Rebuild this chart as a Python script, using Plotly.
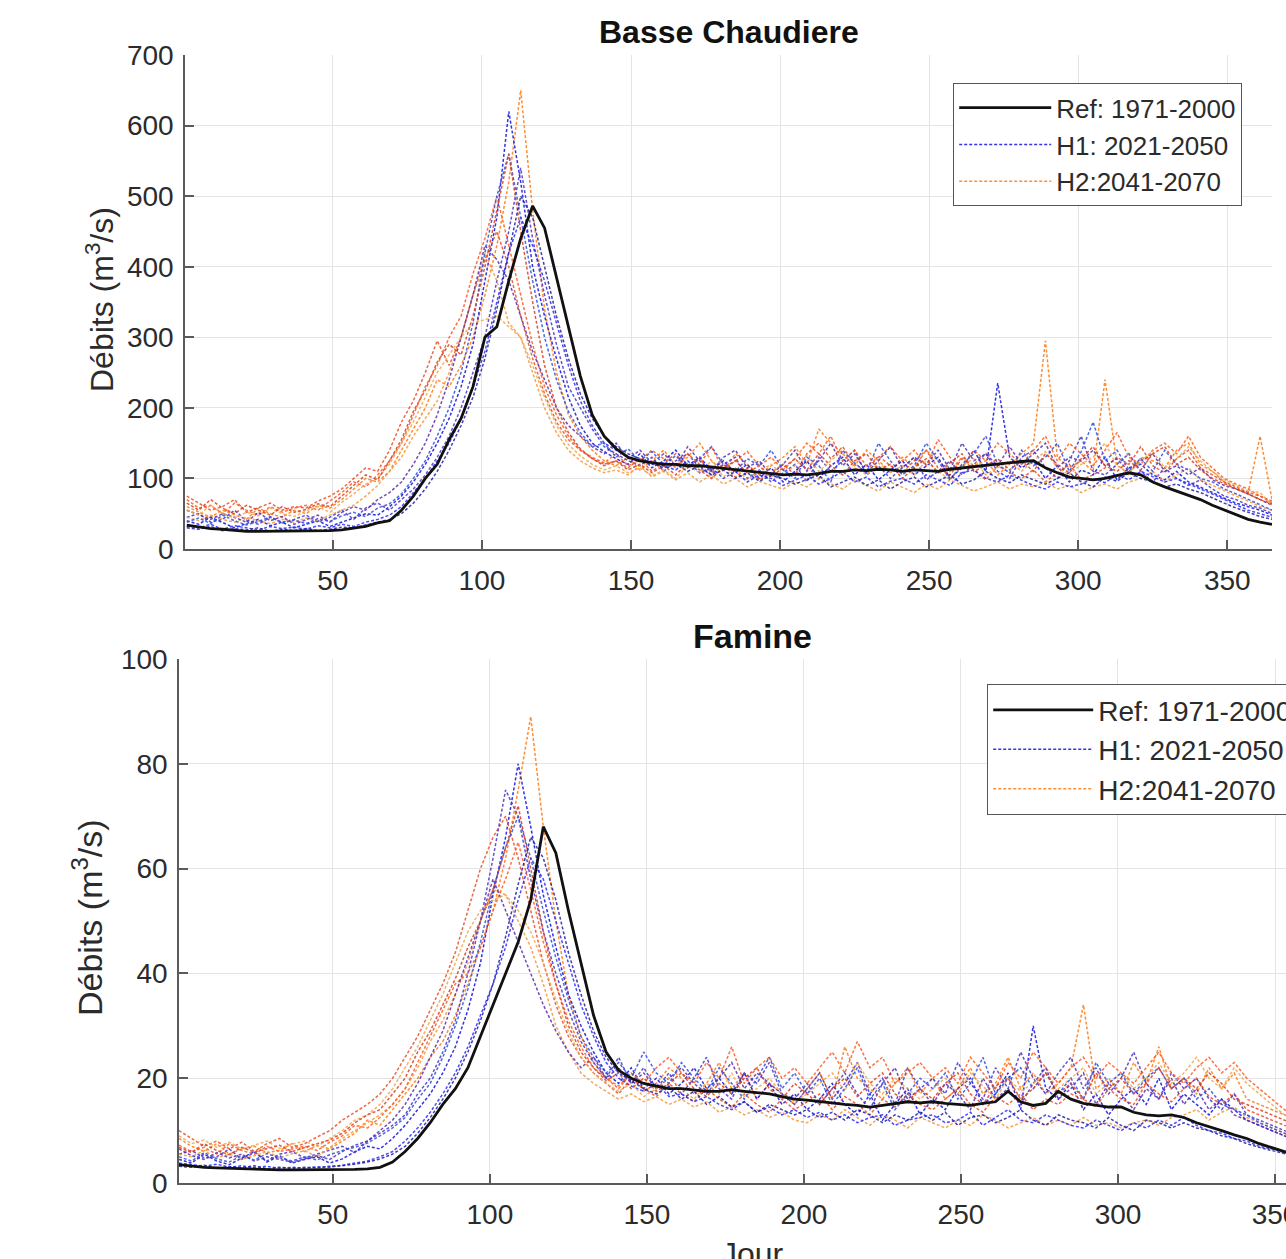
import plotly.graph_objects as go

# ---------------- data ----------------
DAYS = list(range(1, 366, 4))  # 1, 5, 9, ..., 365  (92 sample days)

# ---- Basse Chaudiere ----
REF_BC = [34, 31, 29, 28, 26, 25, 25, 25, 25, 25,
          25, 25, 26, 27, 29, 32, 37, 40, 55, 75,
          100, 120, 155, 185, 230, 300, 315, 380, 440, 486,
          455, 385, 315, 245, 190, 160, 142, 130, 125, 122,
          120, 120, 118, 118, 116, 115, 112, 110, 108, 106,
          105, 106, 105, 107, 110, 110, 112, 111, 113, 112,
          110, 112, 111, 110, 113, 115, 117, 118, 120, 122,
          124, 125, 115, 108, 102, 100, 98, 100, 104, 108,
          105, 95, 88, 82, 76, 70, 62, 55, 48, 42,
          38, 35]

H1_BC_A = [40, 35, 45, 38, 30, 36, 42, 33, 38, 30,
           35, 40, 32, 38, 45, 50, 48, 60, 75, 95,
           120, 150, 185, 230, 290, 380, 470, 620, 520, 400,
           330, 270, 215, 175, 150, 138, 128, 120, 135, 115,
           125, 140, 118, 130, 112, 125, 108, 120, 100, 115,
           95, 110, 125, 100, 118, 130, 105, 120, 98, 112,
           125, 105, 118, 130, 100, 115, 140, 110, 235, 130,
           115, 125, 100, 118, 95, 112, 105, 130, 98, 115,
           120, 105, 98, 110, 95, 88, 80, 72, 65, 60,
           55, 48]
H1_BC_B = [45, 50, 38, 42, 55, 40, 35, 45, 38, 42,
           48, 38, 45, 55, 42, 58, 65, 55, 70, 85,
           105, 130, 160, 200, 250, 300, 380, 450, 540, 440,
           360, 290, 230, 200, 170, 145, 135, 125, 118, 130,
           110, 125, 135, 115, 105, 120, 130, 100, 112, 95,
           108, 120, 95, 130, 110, 125, 140, 105, 118, 100,
           115, 130, 98, 110, 125, 105, 120, 135, 110, 100,
           130, 140, 115, 100, 125, 160, 110, 105, 120, 135,
           110, 95, 115, 100, 90, 98, 85, 75, 70, 62,
           58, 50]
H1_BC_C = [32, 30, 35, 28, 33, 30, 27, 32, 29, 31,
           28, 33, 30, 35, 32, 38, 42, 48, 60, 80,
           100, 125, 150, 185, 230, 280, 350, 420, 470, 430,
           380, 320, 260, 210, 175, 150, 140, 130, 125, 120,
           118, 112, 125, 108, 115, 100, 110, 95, 105, 100,
           90, 98, 105, 92, 100, 110, 95, 102, 88, 96,
           100, 92, 105, 98, 90, 108, 112, 100, 95, 105,
           98, 90, 85, 95, 88, 92, 100, 94, 105, 98,
           110, 102, 95, 100, 92, 85, 78, 70, 62, 55,
           50, 45]
H1_BC_D = [55, 48, 42, 50, 45, 38, 52, 40, 46, 35,
           42, 48, 38, 52, 60, 55, 70, 80, 95, 120,
           150, 190, 240, 300, 360, 430, 410, 380, 330, 280,
           240, 200, 175, 160, 145, 135, 150, 128, 140, 122,
           135, 118, 145, 125, 110, 130, 140, 115, 125, 105,
           120, 140, 110, 125, 150, 118, 135, 108, 125, 145,
           115, 130, 120, 140, 112, 150, 125, 135, 118, 145,
           120, 135, 150, 115, 130, 125, 140, 118, 128, 110,
           125, 135, 110, 118, 105, 115, 98, 90, 85, 78,
           70, 62]
H1_BC_E = [38, 44, 36, 48, 40, 34, 39, 46, 37, 41,
           36, 43, 39, 47, 52, 46, 58, 64, 78, 100,
           125, 160, 200, 250, 320, 420, 500, 560, 470, 380,
           300, 240, 195, 165, 145, 150, 130, 142, 125, 138,
           120, 132, 115, 128, 145, 120, 110, 128, 118, 140,
           112, 100, 130, 118, 95, 140, 122, 108, 150, 125,
           105, 118, 150, 125, 98, 120, 135, 160, 120, 108,
           140, 118, 130, 150, 110, 138, 180, 125, 140, 112,
           128, 110, 140, 120, 112, 100, 95, 85, 78, 70,
           62, 55]
H1_BC_F = [30, 28, 32, 26, 29, 27, 30, 25, 28, 26,
           29, 26, 28, 31, 30, 34, 38, 42, 50, 65,
           85, 110, 140, 175, 215, 270, 340, 420, 500, 470,
           400, 330, 270, 220, 185, 160, 145, 135, 128, 122,
           115, 120, 110, 118, 105, 112, 100, 108, 96, 104,
           100, 92, 98, 105, 88, 95, 102, 90, 98, 85,
           95, 102, 88, 96, 105, 92, 98, 110, 100, 94,
           105, 98, 92, 100, 108, 95, 88, 102, 96, 108,
           100, 95, 88, 92, 85, 80, 72, 65, 58, 52,
           46, 42]

H2_BC_A = [60, 52, 45, 55, 48, 42, 58, 50, 45, 55,
           50, 62, 58, 70, 85, 100, 95, 110, 140, 170,
           200, 240, 230, 260, 300, 360, 430, 520, 650, 480,
           340, 250, 190, 160, 140, 125, 118, 130, 112, 125,
           140, 118, 130, 150, 125, 110, 135, 120, 105, 118,
           130, 145, 120, 170, 150, 135, 118, 140, 125, 110,
           130, 115, 140, 125, 110, 130, 118, 125, 105, 120,
           135, 150, 295, 130, 115, 125, 110, 240, 120, 105,
           130, 125, 115, 140, 150, 120, 110, 95, 85, 80,
           160, 70]
H2_BC_B = [75, 65, 55, 60, 70, 52, 58, 65, 55, 60,
           58, 68, 75, 85, 100, 115, 110, 140, 180, 210,
           250, 295, 260, 300, 360, 410, 450, 400, 330, 270,
           220, 180, 155, 140, 128, 120, 125, 115, 128, 110,
           122, 135, 115, 128, 108, 120, 102, 115, 98, 108,
           120, 105, 135, 150, 128, 145, 120, 110, 132, 118,
           108, 125, 140, 115, 105, 128, 112, 98, 118, 108,
           100, 112, 95, 108, 120, 98, 105, 115, 130, 120,
           145, 118, 108, 128, 140, 115, 105, 95, 88, 80,
           75, 68]
H2_BC_C = [45, 40, 48, 42, 38, 45, 40, 36, 42, 38,
           44, 40, 48, 55, 62, 75, 90, 110, 130, 160,
           185, 210, 250, 300, 360, 420, 380, 320, 300, 250,
           200, 165, 140, 125, 115, 108, 112, 105, 118, 102,
           110, 98, 108, 95, 105, 92, 100, 88, 96, 90,
           85, 95, 88, 100, 92, 85, 98, 90, 82, 95,
           88, 80, 92, 85, 98, 90, 82, 88, 95, 85,
           92, 88, 95, 85, 90, 80, 88, 92, 85, 95,
           100, 110, 95, 105, 115, 98, 90, 82, 75, 68,
           60, 55]
H2_BC_D = [70, 58, 62, 50, 65, 55, 48, 60, 52, 58,
           62, 55, 68, 80, 95, 88, 105, 125, 150, 190,
           230, 260, 300, 330, 390, 440, 500, 430, 360, 290,
           230, 190, 160, 140, 130, 122, 135, 118, 125, 140,
           128, 115, 135, 120, 145, 112, 125, 138, 118, 130,
           112, 128, 150, 135, 160, 125, 140, 118, 130, 145,
           125, 140, 118, 155, 130, 115, 140, 125, 150, 135,
           120, 140, 160, 125, 150, 135, 118, 140, 165, 130,
           120, 140, 150, 135, 160, 130, 115, 100, 92, 85,
           75, 65]
H2_BC_E = [55, 48, 62, 50, 44, 52, 47, 58, 50, 46,
           54, 60, 52, 66, 78, 92, 100, 120, 150, 180,
           215, 250, 275, 300, 320, 325, 330, 315, 300, 260,
           215, 175, 148, 132, 120, 112, 118, 108, 115, 104,
           112, 100, 118, 108, 125, 102, 115, 98, 110, 120,
           105, 118, 132, 110, 125, 140, 115, 105, 122, 108,
           118, 105, 125, 110, 98, 118, 128, 105, 115, 125,
           110, 125, 138, 115, 105, 120, 130, 150, 118, 108,
           125, 138, 115, 128, 145, 125, 110, 98, 90, 82,
           80, 62]
H2_BC_F = [65, 55, 70, 58, 50, 62, 55, 48, 60, 52,
           56, 64, 60, 75, 90, 105, 98, 125, 155, 195,
           225, 265, 290, 275, 330, 400, 480, 560, 450, 350,
           260, 200, 165, 142, 128, 118, 125, 112, 120, 108,
           118, 105, 122, 112, 100, 115, 125, 108, 118, 102,
           115, 128, 112, 135, 118, 105, 125, 135, 112, 120,
           100, 115, 128, 108, 122, 135, 110, 118, 128, 112,
           125, 110, 135, 120, 108, 128, 145, 118, 110, 125,
           112, 135, 145, 120, 130, 112, 100, 92, 85, 78,
           70, 64]

# ---- Famine ----
REF_FA = [3.5, 3.2, 3.0, 2.9, 2.8, 2.7, 2.6, 2.5, 2.5, 2.5,
          2.5, 2.5, 2.5, 2.6, 2.6, 2.7, 3.0, 4.0, 6.0, 8.5,
          11.5, 15, 18, 22, 28, 34, 40, 46, 54, 68,
          63, 52, 42, 32, 25, 21.5, 20, 19, 18.5, 18,
          18, 17.8, 17.5, 17.5, 17.8, 17.5, 17.2, 17, 16.5, 16,
          15.8, 15.5, 15.2, 15, 14.8, 14.5, 14.8, 15.2, 15.5, 15.3,
          15.5, 15.2, 15, 14.8, 15.2, 15.5, 17.5, 15.5, 14.8, 15.2,
          17.5, 16, 15.2, 14.8, 14.5, 14.5, 13.5, 13, 12.8, 13,
          12.5, 11.5, 10.8, 10, 9.2, 8.5, 7.5, 6.8, 6, 5.2,
          4.8, 4.5]

H1_FA_A = [4.5, 3.8, 5.5, 4.2, 3.5, 4.8, 6.0, 4.0, 5.2, 3.8,
           4.5, 5.0, 3.8, 4.6, 6.0, 7.0, 6.5, 8.5, 11, 14,
           17, 21, 26, 33, 42, 55, 66, 80, 68, 55,
           45, 36, 30, 25, 21, 19, 22, 18, 20, 17,
           19, 22, 18, 20, 17, 21, 16, 19, 15, 17,
           14, 16, 19, 15, 13, 17, 12, 15, 18, 13,
           16, 14, 18, 20, 15, 17, 21, 14, 30, 18,
           16, 19, 14, 17, 13, 16, 18, 15, 20, 14,
           17, 15, 13, 16, 14, 12, 11, 10, 9, 8,
           7, 6]
H1_FA_B = [5.5, 6.2, 4.8, 5.0, 6.5, 4.5, 5.8, 4.2, 5.5, 6.0,
           4.8, 5.5, 6.2, 7.0, 5.8, 8.0, 9.5, 11, 13, 17,
           20, 25, 31, 40, 50, 62, 75, 70, 58, 48,
           40, 33, 27, 23, 20, 24, 19, 22, 18, 21,
           17, 20, 24, 18, 16, 21, 19, 23, 17, 15,
           18, 21, 16, 19, 23, 17, 20, 15, 22, 18,
           20, 17, 23, 19, 16, 22, 18, 25, 20, 17,
           21, 24, 18, 22, 17, 20, 25, 19, 16, 21,
           18, 20, 16, 14, 17, 13, 12, 11, 10, 9,
           8, 7.5]
H1_FA_C = [3.8, 3.5, 3.2, 3.6, 3.0, 3.3, 2.9, 3.2, 2.8, 3.0,
           2.8, 3.1, 3.0, 3.4, 3.8, 4.2, 5.0, 6.0, 8.0, 10.5,
           13.5, 17, 21, 26, 32, 38, 45, 54, 62, 58,
           50, 42, 34, 28, 23, 20, 18.5, 17.5, 19, 16.5,
           17, 15.5, 16.5, 15, 14, 15.5, 13.5, 14.5, 13, 14,
           12.5, 13.5, 12, 13, 11.5, 12.5, 13, 11, 12, 12.5,
           13, 11.5, 12, 13.5, 11, 12.5, 14, 12, 11.5, 13,
           12, 11, 10.5, 12, 11, 10, 11.5, 10.5, 12, 11,
           12.5, 11, 10, 9.5, 8.5, 8, 7, 6.5, 5.8, 5.2,
           4.8, 4.3]
H1_FA_D = [6.5, 5.2, 4.5, 5.8, 4.8, 5.5, 4.2, 5.0, 4.5, 4.0,
           4.6, 5.2, 4.5, 6.0, 7.2, 8.0, 10, 12, 15, 19,
           24, 29, 36, 43, 50, 58, 52, 46, 40, 34,
           29, 25, 22, 24, 20, 22, 19, 21, 18, 20,
           22, 19, 17, 20, 23, 18, 21, 19, 17, 16,
           19, 15, 18, 21, 17, 14, 19, 22, 16, 18,
           15, 19, 17, 14, 20, 16, 18, 15, 19, 22,
           16, 18, 21, 15, 19, 17, 14, 18, 16, 20,
           15, 18, 14, 16, 13, 12, 11, 10, 9, 8,
           7.5, 6.5]
H1_FA_E = [5.0, 4.2, 5.8, 4.6, 4.0, 5.2, 4.4, 5.6, 4.8, 4.2,
           5.0, 4.4, 5.4, 6.2, 6.8, 7.6, 9.0, 10.5, 12.5, 16,
           19, 24, 30, 37, 46, 56, 64, 70, 62, 52,
           43, 35, 28, 24, 21, 23, 20, 25, 21, 19,
           23, 20, 17.5, 22, 19, 16, 20, 24, 18, 21,
           17, 20, 15, 18, 22, 16, 19, 14, 17, 20,
           18, 21, 16, 19, 24, 17, 20, 22, 18, 21,
           17, 20, 16, 23, 19, 21, 17, 20, 22, 18,
           20, 16, 18, 15, 14, 13, 11.5, 10.5, 9.5, 8.5,
           7.5, 7]
H1_FA_F = [3.2, 3.0, 3.4, 2.8, 3.1, 2.9, 3.3, 2.7, 3.0, 2.8,
           3.0, 2.9, 3.2, 3.3, 3.6, 4.0, 4.6, 5.5, 7.0, 9.5,
           12.5, 16, 20, 25, 31, 38, 47, 57, 66, 62,
           54, 44, 36, 29, 24, 21, 19.5, 18, 17, 18.5,
           16, 17.5, 15, 16.5, 14.5, 15.5, 13.5, 15, 14, 13,
           14, 12.5, 13.5, 12, 14, 13, 11.5, 13, 12, 13.5,
           12, 13.5, 11, 12.5, 13, 11.5, 12.5, 14, 12, 11,
           13, 12, 11.5, 10.5, 12.5, 11, 10, 12, 11.5, 10.5,
           11.5, 10.5, 10, 9, 8.5, 7.5, 6.8, 6.2, 5.5, 5,
           4.6, 4.2]

H2_FA_A = [8.5, 7.0, 6.0, 7.5, 5.5, 6.5, 7.0, 5.8, 6.2, 7.5,
           6.0, 7.2, 6.5, 8.0, 9.5, 12, 11, 14, 17, 20,
           24, 27, 32, 38, 45, 52, 62, 75, 89, 68,
           50, 36, 28, 23, 20, 18.5, 21, 17.5, 19, 22,
           20, 17, 19, 23, 18, 21, 16, 19, 17, 15,
           18, 21, 16, 26, 20, 18, 16, 19, 22, 17,
           20, 16, 18, 22, 17, 19, 24, 18, 21, 17,
           19, 22, 34, 18, 20, 17, 23, 19, 26, 18,
           20, 17, 22, 18, 21, 16, 15, 14, 13, 12,
           11, 10]
H2_FA_B = [10, 8.5, 7.0, 8.0, 6.5, 7.8, 6.0, 7.5, 8.5, 6.8,
           7.5, 8.8, 10, 12, 13.5, 15, 17, 20, 24, 28,
           33, 38, 44, 52, 60, 66, 70, 62, 52, 42,
           34, 28, 24, 21, 19, 17, 20, 18, 16.5, 19,
           17, 15.5, 18, 16, 14.5, 17, 15, 13.5, 16, 14,
           15.5, 17, 14, 16.5, 15, 13, 16, 14.5, 17, 15,
           14, 16, 18, 15, 13.5, 16.5, 15, 17, 14, 16,
           15, 17, 16, 14.5, 18, 16, 15, 19, 17, 15.5,
           18, 20, 16.5, 15, 17, 14, 13, 12, 11, 10.5,
           9.5, 9]
H2_FA_C = [5.5, 5.0, 6.2, 4.8, 5.5, 4.5, 5.2, 6.0, 4.8, 5.6,
           6.2, 5.0, 6.8, 8.5, 10, 11.5, 13, 15, 18, 22,
           27, 31, 36, 42, 50, 56, 55, 50, 45, 38,
           30, 25, 21, 19, 17.5, 16, 17, 15.5, 16.5, 15,
           16, 14.5, 15.5, 13.5, 14.5, 13, 14, 12.5, 13.5, 12,
           11.5, 13, 12, 14, 12.5, 11, 13, 12, 10.5, 12.5,
           11.5, 10.5, 12, 11, 13, 12, 10.5, 11.5, 12.5, 11,
           12, 11, 12.5, 11, 11.5, 10.5, 11.5, 12, 11, 12.5,
           13, 14, 12, 13.5, 14.5, 12.5, 11.5, 10.5, 9.5, 9,
           8, 7.5]
H2_FA_D = [7.2, 6.0, 6.8, 5.5, 7.5, 6.2, 5.5, 7.0, 6.0, 6.5,
           7.0, 6.2, 7.8, 9.0, 11, 10.5, 12.5, 15, 18, 23,
           28, 33, 38, 40, 45, 52, 58, 65, 56, 46,
           38, 31, 26, 22, 20, 18, 21, 19, 22, 24,
           21, 19, 23, 20, 26, 19, 22, 24, 20, 22,
           19, 22, 25, 21, 27, 22, 24, 19, 21, 23,
           20, 22, 19, 24, 21, 18, 23, 20, 25, 22,
           19, 22, 24, 20, 23, 21, 19, 22, 25, 21,
           19, 22, 24, 21, 23, 20, 18, 16, 14, 12.5,
           11, 10]
H2_FA_E = [9.0, 7.5, 8.2, 6.8, 7.8, 6.5, 7.2, 8.0, 6.6, 7.4,
           8.0, 7.0, 8.5, 10, 12, 13, 15, 18, 22, 26,
           31, 36, 42, 48, 52, 54, 55, 52, 48, 42,
           35, 29, 24, 21, 19, 17.5, 19, 16.5, 18, 20,
           18, 16, 19, 17, 21, 16.5, 18, 20, 17, 15.5,
           17, 19, 21, 17.5, 23, 19, 17, 20, 18, 16,
           18, 20, 17, 21, 18.5, 16, 20, 17.5, 19, 21,
           18, 20, 22, 17, 19, 21, 18, 20, 23, 19,
           21, 24, 20, 18, 22, 19, 17, 15, 13, 12,
           10.5, 9.5]
H2_FA_F = [6.8, 5.8, 7.5, 6.2, 5.4, 6.8, 5.9, 6.5, 7.2, 6.0,
           6.8, 7.5, 8.2, 9.5, 11.5, 13, 14, 17, 20, 25,
           29, 34, 39, 45, 50, 56, 64, 72, 60, 48,
           38, 30, 25, 22, 19.5, 21, 18, 20, 17.5, 19,
           21, 18, 16.5, 19, 17, 20, 22, 18, 16, 19,
           17, 15, 18, 20, 16.5, 19, 21, 17, 15.5, 18,
           16, 19, 21, 17, 15, 18.5, 20, 16, 18, 21,
           17, 19, 16, 21, 18, 20, 17, 19, 22, 18,
           20, 18, 21, 19, 16, 15, 14, 13, 12, 11,
           10, 9]

X_TICKS = [50, 100, 150, 200, 250, 300, 350]
TITLES = ["Basse Chaudiere", "Famine"]
NAMES = ["Ref: 1971-2000", "H1: 2021-2050", "H2:2041-2070"]

# ---------------- styling ----------------
W, H = 1286, 1259
H1_COLORS = ["#1010e0", "#4a36c8", "#2a2aff", "#5a2fa8", "#3050e0", "#2020a0"]
H2_COLORS = ["#ff7a10", "#e8502a", "#f39a3c", "#ff5a20", "#f0a850", "#d84020"]
DASH = "3px,2px"
FONT = "Liberation Sans, Arial, sans-serif"
TXT = "#2b2b2b"


def px_x(p):
    return p / W


def px_y(p):
    return 1 - p / H


fig = go.Figure()

panels = [
    dict(xa="x", ya="y", leg="legend", ref=REF_BC,
         h1=[H1_BC_A, H1_BC_B, H1_BC_C, H1_BC_D, H1_BC_E, H1_BC_F],
         h2=[H2_BC_A, H2_BC_B, H2_BC_C, H2_BC_D, H2_BC_E, H2_BC_F]),
    dict(xa="x2", ya="y2", leg="legend2", ref=REF_FA,
         h1=[H1_FA_A, H1_FA_B, H1_FA_C, H1_FA_D, H1_FA_E, H1_FA_F],
         h2=[H2_FA_A, H2_FA_B, H2_FA_C, H2_FA_D, H2_FA_E, H2_FA_F]),
]

for p in panels:
    for j in range(len(p["h1"])):
        fig.add_trace(go.Scatter(
            x=DAYS, y=p["h2"][j], mode="lines", name=NAMES[2],
            line=dict(color=H2_COLORS[j], width=1.5, dash=DASH),
            opacity=0.85, xaxis=p["xa"], yaxis=p["ya"], legend=p["leg"],
            showlegend=(j == 0), legendrank=3, legendgroup="h2" + p["xa"]))
        fig.add_trace(go.Scatter(
            x=DAYS, y=p["h1"][j], mode="lines", name=NAMES[1],
            line=dict(color=H1_COLORS[j], width=1.5, dash=DASH),
            opacity=0.85, xaxis=p["xa"], yaxis=p["ya"], legend=p["leg"],
            showlegend=(j == 0), legendrank=2, legendgroup="h1" + p["xa"]))
    fig.add_trace(go.Scatter(
        x=DAYS, y=p["ref"], mode="lines", name=NAMES[0],
        line=dict(color="#111111", width=2.8),
        xaxis=p["xa"], yaxis=p["ya"], legend=p["leg"],
        showlegend=True, legendrank=1))

axis_common = dict(
    showgrid=True, gridcolor="#e4e4e4", gridwidth=1,
    showline=True, linecolor="#5a5a5a", linewidth=1.5,
    ticks="inside", ticklen=9, tickcolor="#5a5a5a", tickwidth=1.5,
    zeroline=False, mirror=False, automargin=False,
    ticklabeloverflow="allow",
    tickfont=dict(family=FONT, size=28, color=TXT),
)

fig.update_layout(
    width=W, height=H,
    margin=dict(l=0, r=0, t=0, b=0, autoexpand=False),
    paper_bgcolor="white", plot_bgcolor="white",
    font=dict(family=FONT, color=TXT),
    xaxis=dict(domain=[px_x(185), px_x(1272)], range=[0.4, 365],
               tickvals=X_TICKS, anchor="y", ticklabelstandoff=6, **axis_common),
    yaxis=dict(domain=[px_y(549), px_y(55)], range=[0, 700], dtick=100,
               anchor="x", ticklabelstandoff=4, **axis_common),
    xaxis2=dict(domain=[px_x(179), 1.0], range=[1, 353.5],
                tickvals=X_TICKS, anchor="y2", ticklabelstandoff=6, **axis_common),
    yaxis2=dict(domain=[px_y(1183), px_y(659)], range=[0, 100], dtick=20,
                anchor="x2", ticklabelstandoff=4, **axis_common),
    legend=dict(x=px_x(953), y=px_y(83), xanchor="left", yanchor="top",
                bgcolor="white", bordercolor="#555555", borderwidth=1.2,
                font=dict(family=FONT, size=26, color=TXT),
                itemwidth=92, traceorder="normal"),
    legend2=dict(x=px_x(987), y=px_y(684), xanchor="left", yanchor="top",
                 bgcolor="white", bordercolor="#555555", borderwidth=1.2,
                 font=dict(family=FONT, size=28, color=TXT),
                 itemwidth=100, traceorder="normal"),
)

fig.add_annotation(text="<b>" + TITLES[0] + "</b>", x=px_x(729), y=px_y(32),
                   xref="paper", yref="paper", showarrow=False,
                   xanchor="center", yanchor="middle",
                   font=dict(family=FONT, size=32, color="#111111"))
fig.add_annotation(text="<b>" + TITLES[1] + "</b>", x=px_x(752), y=px_y(636),
                   xref="paper", yref="paper", showarrow=False,
                   xanchor="center", yanchor="middle",
                   font=dict(family=FONT, size=34, color="#111111"))

fig.add_annotation(text="Débits (m<sup>3</sup>/s)", x=px_x(100), y=px_y(300),
                   xref="paper", yref="paper", showarrow=False, textangle=-90,
                   xanchor="center", yanchor="middle",
                   font=dict(family=FONT, size=32, color=TXT))
fig.add_annotation(text="Débits (m<sup>3</sup>/s)", x=px_x(87), y=px_y(918),
                   xref="paper", yref="paper", showarrow=False, textangle=-90,
                   xanchor="center", yanchor="middle",
                   font=dict(family=FONT, size=34, color=TXT))
fig.add_annotation(text="Jour", x=px_x(752), y=px_y(1234),
                   xref="paper", yref="paper", showarrow=False,
                   xanchor="center", yanchor="top",
                   font=dict(family=FONT, size=32, color=TXT))

fig.write_html("out.html", config={"displayModeBar": False},
               post_script="document.body.style.margin='0px';")
